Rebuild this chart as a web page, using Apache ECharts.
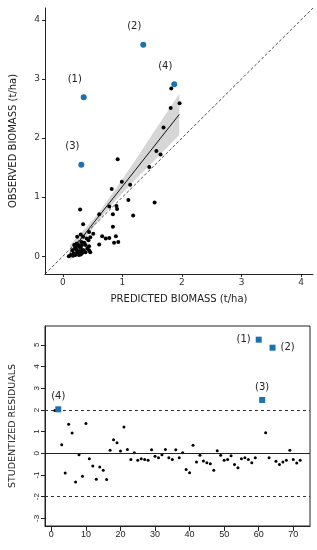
<!DOCTYPE html>
<html>
<head>
<meta charset="utf-8">
<script src="https://cdn.jsdelivr.net/npm/echarts@6/dist/echarts.min.js"></script>
<style>html,body{margin:0;padding:0;background:#fff}#c{width:317px;height:550px}</style>
</head>
<body>
<div id="c"></div>
<script>
// ---- Top panel: observed vs predicted ----
const predBlack = [0.92,1.57,1.64,1.45,0.99,1.13,0.82,1.54,1.10,1.18,0.29,0.61,0.34,0.84,0.90,0.91,0.78,0.84,0.89,0.66,0.72,0.78,0.86,0.93,0.61,0.51,0.44,0.46,0.43,0.24,0.30,0.34,1.82,1.81,1.96,1.69,
  0.10,0.13,0.16,0.17,0.18,0.19,0.21,0.21,0.21,0.23,0.23,0.24,0.26,0.27,0.27,0.28,0.30,0.30,0.30,0.31,0.32,0.32,0.33,0.35,0.36,0.38,0.38,0.40,0.44,0.44,0.46,0.41];
const obsBlack  = [1.64,1.78,1.72,1.51,1.26,1.21,1.14,0.91,0.95,0.69,0.79,0.71,0.54,0.71,0.85,0.80,0.84,0.50,0.34,0.34,0.30,0.31,0.23,0.24,0.20,0.38,0.41,0.32,0.27,0.33,0.37,0.33,2.84,2.51,2.59,2.18,
  0.00,0.02,0.10,0.01,0.05,0.19,0.16,0.02,0.13,0.11,0.21,0.07,0.19,0.02,0.16,0.09,0.15,0.03,0.07,0.24,0.19,0.05,0.10,0.10,0.23,0.19,0.07,0.30,0.17,0.10,0.07,0.13];
const predBlue = [0.35,1.35,0.31,1.87];
const obsBlue  = [2.69,3.58,1.55,2.91];
const blueLabels = ['(1)','(2)','(3)','(4)'];
const fitX = [0.12,1.955];
const fitY = [0.06,2.40];
const bandX  = [0.12,0.40,0.60,0.90,1.20,1.50,1.955];
const bandLo = [-0.07,0.34,0.61,0.96,1.28,1.58,2.05];
const bandHi = [0.19,0.50,0.73,1.16,1.60,2.06,2.75];
const diagX = [-0.3,4.2];
const topTicks = [0,1,2,3,4];

// ---- Bottom panel: studentized residuals ----
const residuals = [1.97,2.03,0.40,-0.91,1.34,0.94,-1.32,-0.06,-1.06,1.37,
  -0.25,-0.58,-1.20,-0.63,-0.78,-1.21,0.14,0.63,0.49,0.11,
  1.21,0.18,-0.28,0.03,-0.32,-0.25,-0.28,-0.32,0.17,-0.14,
  -0.20,-0.06,0.18,-0.20,-0.29,0.17,-0.20,0.03,-0.74,-0.89,
  0.37,-0.40,-0.09,-0.35,-0.43,-0.48,-0.78,0.12,-0.09,-0.32,
  -0.28,-0.11,-0.52,-0.66,-0.25,-0.20,-0.29,-0.43,-0.20,5.24,
  2.46,0.95,-0.20,4.87,-0.37,-0.51,-0.40,-0.32,0.14,-0.28,
  -0.45,-0.32];
const outlierIdx = [60,64,61,2];
const outlierLabels = ['(1)','(2)','(3)','(4)'];
const outlierLabelPos = ['left','right','top','top'];
const resXTicks = [0,10,20,30,40,50,60,70];
const resYTicks = [-3,-2,-1,0,1,2,3,4,5];
const refLines = [2,-2];

const BLUE = '#1b72b0';
const FONT = 'DejaVu Sans';

const blackTop = predBlack.map((x,i)=>[x,obsBlack[i]]);
const blueTop = predBlue.map((x,i)=>({value:[x,obsBlue[i]], label:{formatter: blueLabels[i]}}));
const bandData = bandX.map((x,i)=>[x,bandLo[i],bandHi[i]]);

const resBlack = [], resBlue = [];
residuals.forEach((v,i)=>{
  const idx = i+1;
  const k = outlierIdx.indexOf(idx);
  if (k>=0) resBlue.push({value:[idx,v], label:{formatter: outlierLabels[k], position: outlierLabelPos[k]}});
  else resBlack.push([idx,v]);
});

const chart = echarts.init(document.getElementById('c'), null, {renderer:'canvas'});
chart.setOption({
  animation:false,
  backgroundColor:'#fff',
  textStyle:{fontFamily:FONT},
  grid:[
    {left:44, top:8, width:269, height:266},
    {left:44, top:326, width:266, height:200, show:true, borderColor:'#222', borderWidth:1}
  ],
  xAxis:[
    {gridIndex:0, type:'value', min:-0.3, max:4.2,
     name:'PREDICTED BIOMASS (t/ha)', nameLocation:'middle', nameGap:20,
     nameTextStyle:{fontSize:10, color:'#222', fontFamily:FONT},
     axisLine:{show:true, onZero:false, lineStyle:{color:'#222', width:1}},
     axisTick:{show:true, length:3, lineStyle:{color:'#222'}, customValues:topTicks},
     axisLabel:{fontSize:9, color:'#333', margin:4, customValues:topTicks, fontFamily:FONT},
     splitLine:{show:false}},
    {gridIndex:1, type:'value', min:-1.84, max:74.84,
     axisLine:{show:true, onZero:false, lineStyle:{color:'#222'}},
     axisTick:{show:true, length:5, lineStyle:{color:'#222'}, customValues:resXTicks},
     axisLabel:{fontSize:9, color:'#222', margin:4, customValues:resXTicks, fontFamily:'Liberation Sans'},
     splitLine:{show:false}}
  ],
  yAxis:[
    {gridIndex:0, type:'value', min:-0.3, max:4.2,
     name:'OBSERVED BIOMASS (t/ha)', nameLocation:'middle', nameGap:27,
     nameTextStyle:{fontSize:10, color:'#222', fontFamily:FONT},
     axisLine:{show:true, onZero:false, lineStyle:{color:'#222', width:1}},
     axisTick:{show:true, length:3, lineStyle:{color:'#222'}, customValues:topTicks},
     axisLabel:{fontSize:9, color:'#333', margin:5, customValues:topTicks, fontFamily:FONT},
     splitLine:{show:false}},
    {gridIndex:1, type:'value', min:-3.35, max:5.87,
     name:'STUDENTIZED RESIDUALS', nameLocation:'middle', nameGap:27,
     nameTextStyle:{fontSize:9.5, color:'#222', fontFamily:FONT},
     axisLine:{show:true, onZero:false, lineStyle:{color:'#222'}},
     axisTick:{show:true, length:4, lineStyle:{color:'#222'}, customValues:resYTicks},
     axisLabel:{fontSize:8, color:'#222', margin:4, rotate:90, customValues:resYTicks, fontFamily:'Liberation Sans'},
     splitLine:{show:false}}
  ],
  series:[
    {type:'custom', xAxisIndex:0, yAxisIndex:0, data:bandData, encode:{x:0, y:[1,2]}, z:1,
     renderItem:function(params, api){
       if (params.dataIndex !== 0) return null;
       const pts = [];
       for (let i=0;i<bandX.length;i++) pts.push(api.coord([bandX[i], bandHi[i]]));
       for (let i=bandX.length-1;i>=0;i--) pts.push(api.coord([bandX[i], bandLo[i]]));
       return {type:'polygon', shape:{points:pts}, style:{fill:'#d6d6d6', stroke:null}};
     }},
    {type:'line', xAxisIndex:0, yAxisIndex:0, data:diagX.map(v=>[v,v]), symbol:'none', z:2,
     lineStyle:{color:'#222', width:0.8, type:[3,2]}},
    {type:'line', xAxisIndex:0, yAxisIndex:0, data:fitX.map((x,i)=>[x,fitY[i]]), symbol:'none', z:3,
     lineStyle:{color:'#111', width:1}},
    {type:'scatter', xAxisIndex:0, yAxisIndex:0, data:blackTop, symbol:'circle', symbolSize:4, z:4,
     itemStyle:{color:'#000', opacity:1}},
    {type:'scatter', xAxisIndex:0, yAxisIndex:0, data:blueTop, symbol:'circle', symbolSize:6, z:5,
     itemStyle:{color:BLUE, opacity:1},
     label:{show:true, position:'top', offset:[-9,-5], fontSize:10, color:'#222', fontFamily:FONT}},
    {type:'line', xAxisIndex:1, yAxisIndex:1, data:[], symbol:'none',
     markLine:{silent:true, symbol:'none', label:{show:false},
       data:[
         {yAxis:refLines[0], lineStyle:{color:'#333', width:1, type:[3,3]}},
         {yAxis:refLines[1], lineStyle:{color:'#333', width:1, type:[3,3]}},
         {yAxis:0, lineStyle:{color:'#222', width:1, type:'solid'}}
       ]}},
    {type:'scatter', xAxisIndex:1, yAxisIndex:1, data:resBlack, symbol:'circle', symbolSize:3, z:4,
     itemStyle:{color:'#000', opacity:1}},
    {type:'scatter', xAxisIndex:1, yAxisIndex:1, data:resBlue, symbol:'rect', symbolSize:6, z:5,
     itemStyle:{color:BLUE, opacity:1},
     label:{show:true, distance:5, fontSize:10, color:'#222', fontFamily:FONT}}
  ]
});
</script>
</body>
</html>
